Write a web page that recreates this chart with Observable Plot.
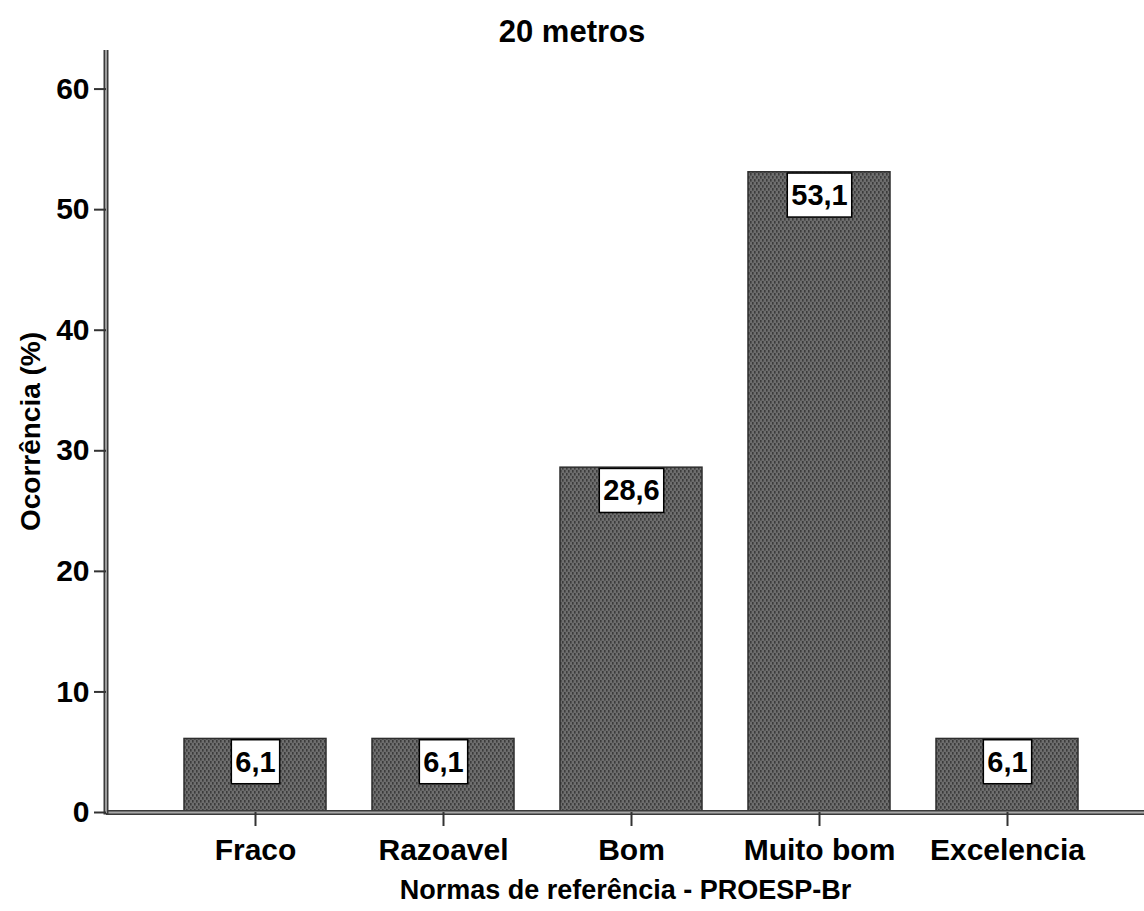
<!DOCTYPE html>
<html>
<head>
<meta charset="utf-8">
<script src="https://cdn.jsdelivr.net/npm/d3@7"></script>
<script src="https://cdn.jsdelivr.net/npm/@observablehq/plot@0.6"></script>
<style>
  body { margin: 0; background: #fff; font-family: "Liberation Sans", Arial, sans-serif; }
  #title { width: 1144px; height: 50px; line-height: 64px; text-align: center; font-size: 31px; font-weight: bold; color: #000; }
</style>
</head>
<body>
<div id="title">20 metros</div>
<div id="chart"></div>
<script>
const categories = ["Fraco", "Razoavel", "Bom", "Muito bom", "Excelencia"];
const values = [6.1, 6.1, 28.6, 53.1, 6.1];
const valueLabels = ["6,1", "6,1", "28,6", "53,1", "6,1"];
const yTicks = [0, 10, 20, 30, 40, 50, 60];
const yMax = 63.2;

const data = categories.map((c, i) => ({cat: c, val: values[i], lab: valueLabels[i]}));

function leftAxisLine(index, scales, values, dims) {
  const g = d3.create("svg:g");
  const x = dims.marginLeft;
  const y1 = dims.marginTop;
  const y2 = dims.height - dims.marginBottom;
  g.append("line").attr("x1", x).attr("x2", x).attr("y1", y1).attr("y2", y2 + 2.5)
    .attr("stroke", "#3a3a3a").attr("stroke-width", 5);
  g.append("line").attr("x1", x).attr("x2", x).attr("y1", y1).attr("y2", y2 + 1)
    .attr("stroke", "#a8a8a8").attr("stroke-width", 1.8);
  return g.node();
}

const chart = Plot.plot({
  width: 1144,
  height: 861,
  marginLeft: 106,
  marginRight: 0,
  marginTop: 0,
  marginBottom: 99,
  style: {fontFamily: "'Liberation Sans', Arial, sans-serif", fontSize: "28px", fontWeight: "bold", color: "#000", background: "#fff"},
  x: {domain: categories, paddingInner: 0.247, paddingOuter: 0.377, align: 0.542, label: null},
  y: {domain: [0, yMax], label: null},
  marks: [
    Plot.barY(data, {x: "cat", y: "val", fill: "url(#dotpat)", stroke: "#2e2e2e", strokeWidth: 1.5}),
    Plot.ruleY([0], {stroke: "#3a3a3a", strokeWidth: 5}),
    Plot.ruleY([0], {stroke: "#a8a8a8", strokeWidth: 1.8}),
    leftAxisLine,
    Plot.axisY({ticks: yTicks, tickSize: 12, tickPadding: 5, stroke: "#333", strokeWidth: 2, fontSize: 30, label: null}),
    Plot.axisY({ticks: [], label: "Ocorrência (%)", labelAnchor: "center", labelOffset: 86, labelArrow: false, fontSize: 28}),
    Plot.axisX({tickSize: 14, tickPadding: 12, stroke: "#333", strokeWidth: 2, fontSize: 30, label: null}),
    Plot.axisX({ticks: [], label: "Normas de referência - PROESP-Br", labelAnchor: "center", labelOffset: 86, labelArrow: false, fontSize: 27}),
    Plot.text(data, {x: "cat", y: "val", text: "lab", dy: 23.5, lineAnchor: "middle", fill: "#000", fontSize: 29, fontWeight: "bold", className: "vallab"})
  ]
});

document.getElementById("chart").append(chart);

// pattern definition for the dotted bar fill
const svg = d3.select(chart.tagName.toLowerCase() === "svg" ? chart : chart.querySelector("svg"));
const defs = svg.insert("defs", ":first-child");
const pat = defs.append("pattern").attr("id", "dotpat").attr("patternUnits", "userSpaceOnUse")
  .attr("width", 4).attr("height", 6);
pat.append("rect").attr("width", 4).attr("height", 6).attr("fill", "#6e6e6e");
pat.append("rect").attr("x", 0).attr("y", 0).attr("width", 1.6).attr("height", 2.6).attr("fill", "#3c3c3c");
pat.append("rect").attr("x", 2).attr("y", 3).attr("width", 1.6).attr("height", 2.6).attr("fill", "#3c3c3c");

// white boxes behind value labels
svg.selectAll("g.vallab text, .vallab text").each(function() {
  const b = this.getBBox();
  const tr = this.getAttribute("transform");
  const r = document.createElementNS("http://www.w3.org/2000/svg", "rect");
  r.setAttribute("x", b.x - 4);
  r.setAttribute("y", b.y - 6);
  r.setAttribute("width", b.width + 8);
  r.setAttribute("height", b.height + 12);
  r.setAttribute("fill", "#fff");
  r.setAttribute("stroke", "#000");
  r.setAttribute("stroke-width", 1.5);
  if (tr) r.setAttribute("transform", tr);
  this.parentNode.insertBefore(r, this);
});
</script>
</body>
</html>
